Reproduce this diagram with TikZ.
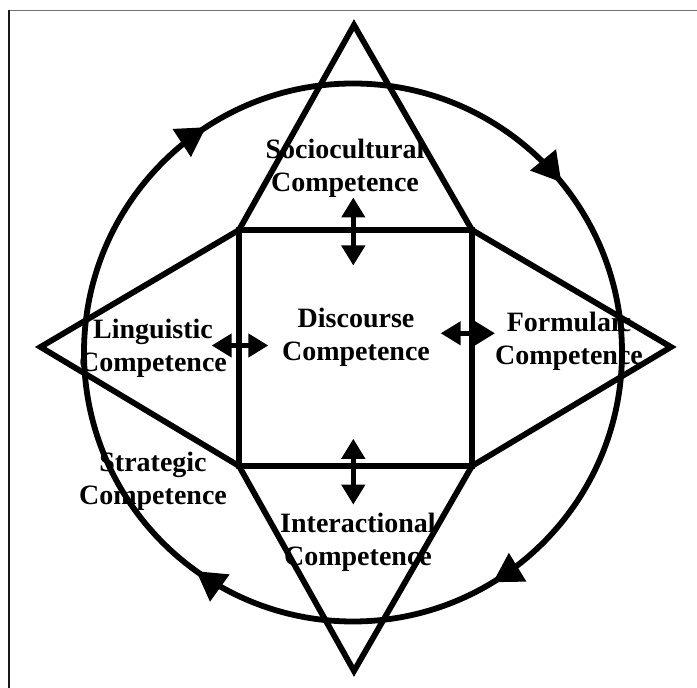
\documentclass[tikz,border=0pt]{standalone}
\usepackage{fontspec}
\setmainfont{Liberation Serif}
\usetikzlibrary{arrows.meta,decorations.markings}
\begin{document}
\begin{tikzpicture}[x=1pt,y=1pt,
  lbl/.style={align=center,font=\fontsize{28}{33}\selectfont\bfseries,inner sep=0pt},
  outline/.style={line width=5.8pt,line join=miter},
  dbl/.style={line width=4.5pt,{Triangle[length=20pt,width=23pt]}-{Triangle[length=20pt,width=23pt]}},
  cyc/.style={line width=5.8pt,postaction={decorate},
    decoration={markings,
      mark=at position 0.163 with {\arrow{Triangle[length=29pt,width=32pt]}},
      mark=at position 0.349 with {\arrow{Triangle[length=29pt,width=32pt]}},
      mark=at position 0.658 with {\arrow{Triangle[length=29pt,width=32pt]}},
      mark=at position 0.891 with {\arrow{Triangle[length=29pt,width=32pt]}}}}
]
\useasboundingbox (0,0) rectangle (697,688);
% frame
\draw[line width=1.5pt,black!55] (9,677.5) -- (697,677.5);
\draw[line width=1.5pt,black!90] (9,0) -- (9,677.5);

% texts
\node[lbl] (soc) at (345,520) {Sociocultural\\Competence};
\node[lbl] (dis) at (356,351) {Discourse\\Competence};
\node[lbl] (lin) at (153,340) {Linguistic\\Competence};
\node[lbl] (for) at (569,347) {Formulaic\\Competence};
\node[lbl] (str) at (153,207) {Strategic\\Competence};
\node[lbl] (int) at (358,146) {Interactional\\Competence};

% geometry
\coordinate (O) at (353,335.5);
\coordinate (A) at (239,458);
\coordinate (B) at (472,458);
\coordinate (C) at (472,222);
\coordinate (D) at (239,222);
\coordinate (T) at (354,663);
\coordinate (Bt) at (354,17);
\coordinate (L) at (40.5,341);
\coordinate (R) at (671,341);

\draw[cyc] (O) ++(0:269) arc[start angle=0,end angle=-360,radius=269];

\draw[outline] (A) -- (B) -- (C) -- (D) -- cycle;
\draw[outline] (A) -- (T) -- (B);
\draw[outline] (B) -- (R) -- (C);
\draw[outline] (C) -- (Bt) -- (D);
\draw[outline] (D) -- (L) -- (A);

% double arrows
\coordinate (u1) at (353.3,490.5);
\coordinate (u2) at (353.3,422.5);
\coordinate (d1) at (353.3,249.2);
\coordinate (d2) at (353.3,183.4);
\coordinate (l1) at (211.7,342.5);
\coordinate (l2) at (268.3,342.5);
\coordinate (r1) at (440.7,354.7);
\coordinate (r2) at (495,354.7);
\draw[dbl] (u1) -- (u2);
\draw[dbl] (d1) -- (d2);
\draw[dbl] (l1) -- (l2);
\draw[dbl] (r1) -- (r2);
\end{tikzpicture}
\end{document}
